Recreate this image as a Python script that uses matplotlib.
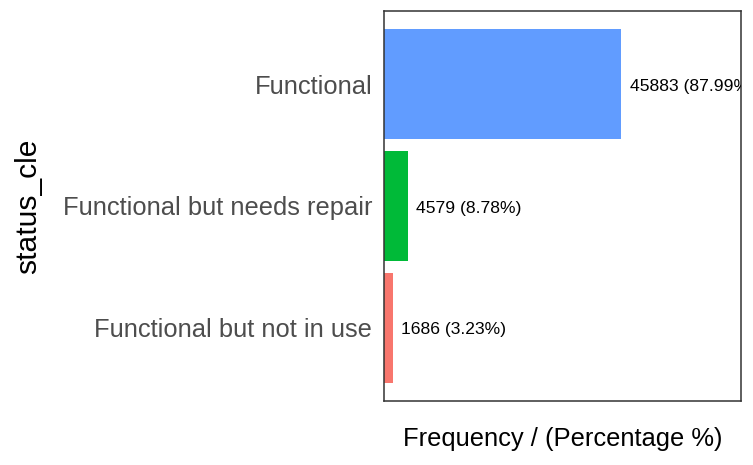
import matplotlib
matplotlib.use("Agg")
import matplotlib.pyplot as plt

# ------------------------------------------------------------
# data (bottom -> top on the chart)
# ------------------------------------------------------------
categories = ["Functional but not in use", "Functional but needs repair", "Functional"]
counts = [1686, 4579, 45883]
percents = [3.23, 8.78, 87.99]
bar_colors = ["#F8766D", "#00BA38", "#619CFF"]

plt.rcParams["font.family"] = ["Liberation Sans", "DejaVu Sans"]

fig = plt.figure(figsize=(7.53, 4.65), dpi=100)
ax = fig.add_axes([384 / 753, 1 - 401 / 465, 357 / 753, 390 / 465])

ypos = list(range(len(categories)))
ax.barh(ypos, counts, height=0.9, color=bar_colors)

# value labels, clipped by the panel like in the original
for y, c, p in zip(ypos, counts, percents):
    ax.annotate(f"{c} ({p:.2f}%)", xy=(c, y), xytext=(6, -1.5),
                textcoords="offset points", ha="left", va="center",
                fontsize=12.6, color="black", clip_on=True)

ax.set_xlim(0, 69000)
ax.set_ylim(-0.6, 2.6)

ax.set_yticks(ypos)
ax.set_yticklabels(categories, fontsize=18.4, color="#4D4D4D")
ax.tick_params(axis="y", length=0, pad=8.5)
ax.set_xticks([])

for s in ax.spines.values():
    s.set_color("#333333")
    s.set_linewidth(1.1)

ax.set_xlabel("Frequency / (Percentage %)", fontsize=18.4, labelpad=19)
ax.set_ylabel("status_cle", fontsize=21.6, labelpad=15)

fig.savefig("out.png", dpi=100)
